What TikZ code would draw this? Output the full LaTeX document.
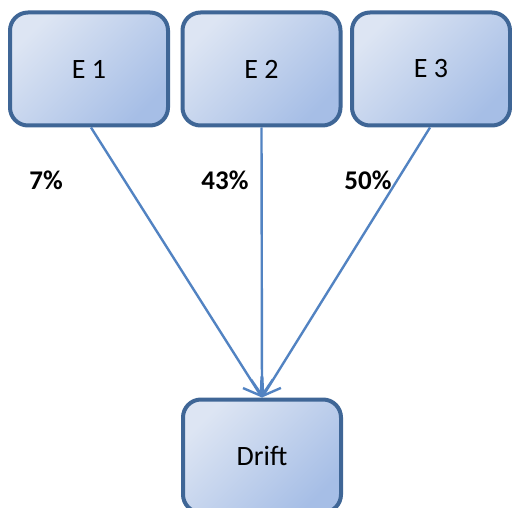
\documentclass[tikz,border=0pt]{standalone}
\usepackage{fontspec}
\setmainfont{Carlito}
\usetikzlibrary{arrows.meta}
\definecolor{boxlight}{HTML}{DDE5F3}
\definecolor{boxdark}{HTML}{A6BEE6}
\definecolor{boxborder}{HTML}{3F6696}
\definecolor{arrowblue}{HTML}{5283C2}
\tikzset{
  ebox/.style={draw=boxborder, line width=4pt, rounded corners=18pt,
    minimum width=158pt, minimum height=113pt, inner sep=0pt,
    top color=boxlight, bottom color=boxdark, shading angle=45,
    font=\fontsize{28}{32}\selectfont, text=black},
  conn/.style={draw=arrowblue, line width=2.4pt,
    -{Straight Barb[length=16pt,width=22pt,line width=2.4pt]}},
  pct/.style={font=\bfseries\fontsize{27}{30}\selectfont, text=black, inner sep=0pt}
}
\begin{document}
\begin{tikzpicture}[x=1pt,y=-1pt]
\useasboundingbox (0,0) rectangle (512,508);
\clip (0,0) rectangle (512,508);
\node[ebox] (e1) at (89,69) {E 1};
\node[ebox] (e2) at (261.5,69) {E 2};
\node[ebox] (e3) at (431,69) {E 3};
\node[ebox] (drift) at (262,456) {Drift};
\node[pct] (p1) at (46,180) {7\%};
\node[pct] (p2) at (225,180) {43\%};
\node[pct] (p3) at (368,180) {50\%};
\draw[conn] ([xshift=2pt]e1.south) -- (drift.north);
\draw[conn] (e2.south) -- (drift.north);
\draw[conn] ([xshift=-1pt]e3.south) -- (drift.north);
\end{tikzpicture}
\end{document}
